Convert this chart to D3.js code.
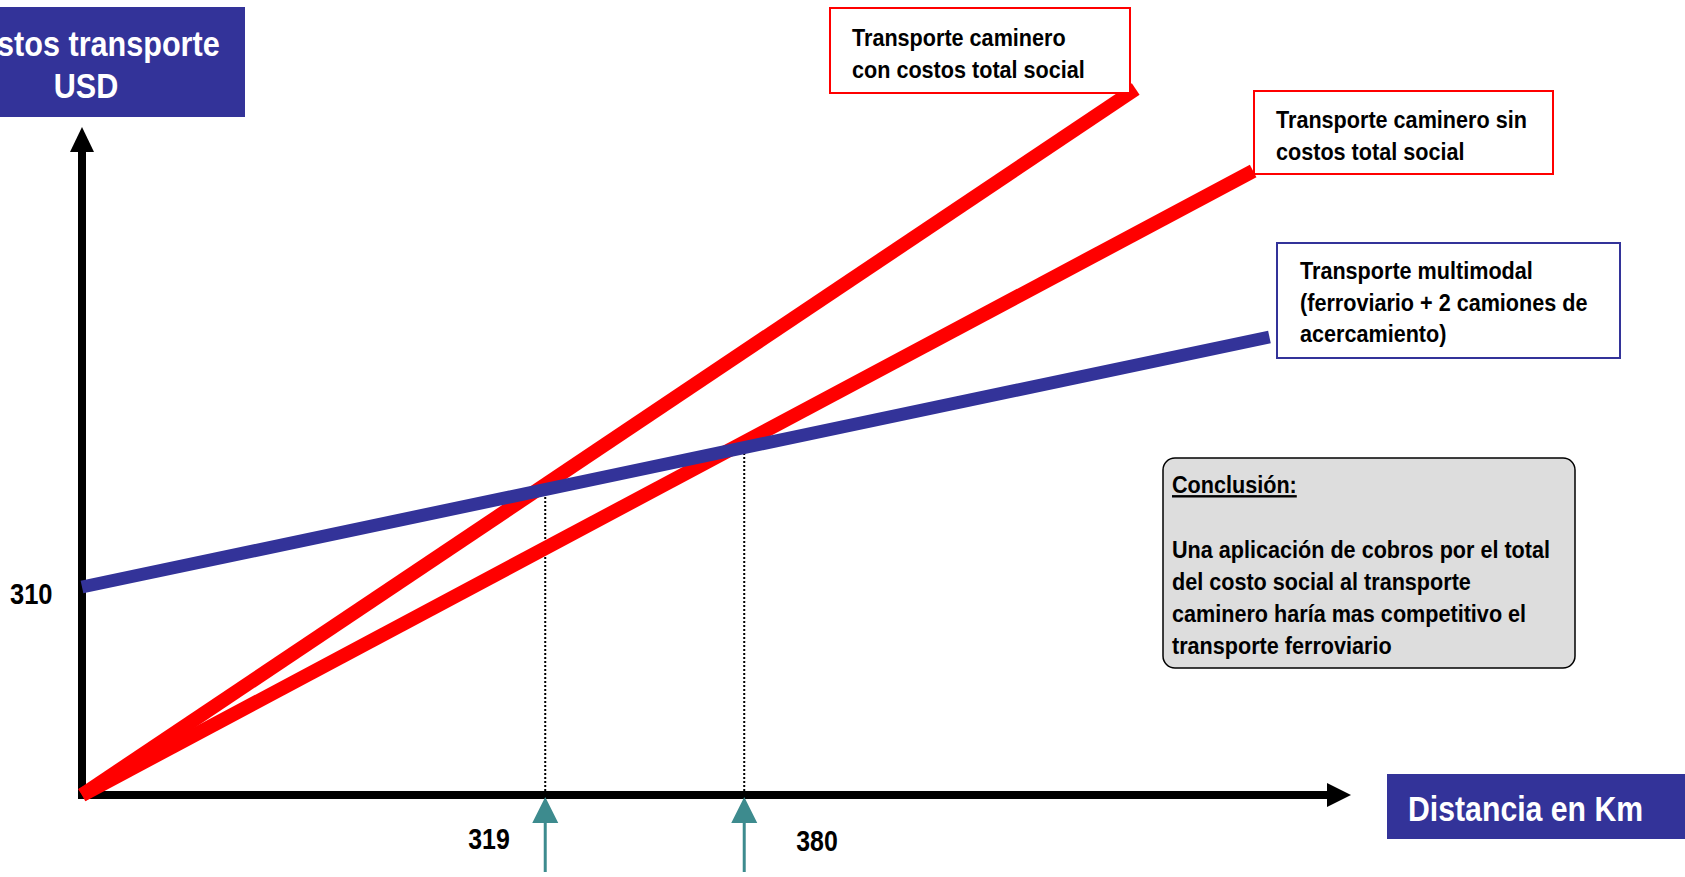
<!DOCTYPE html>
<html>
<head>
<meta charset="utf-8">
<script src="https://d3js.org/d3.v7.min.js"></script>
<style>
  html, body { margin: 0; padding: 0; background: #fff; overflow: hidden; }
  text { font-family: "Liberation Sans", Arial, sans-serif; font-weight: bold; }
</style>
</head>
<body>
<svg width="1685" height="877"></svg>
<script>
// schematic values (km on x, USD on y)
var xDomain = [177, 566];
var yDomain = [102, 770];

var roadSocial   = [{km:177, usd:102}, {km:500, usd:808}];
var roadNoSocial = [{km:177, usd:102}, {km:536, usd:726}];
var multimodal   = [{km:177, usd:310}, {km:541, usd:560}];

var breakEvenKm  = [319, 380];
var breakEvenUsd = [408, 449];
var yTickValues  = [310];

var roadSocialLabel   = ["Transporte caminero", "con costos total social"];
var roadNoSocialLabel = ["Transporte caminero sin", "costos total social"];
var multimodalLabel   = ["Transporte multimodal", "(ferroviario + 2 camiones de", "acercamiento)"];
var conclusionLines   = ["Una aplicación de cobros por el total",
                         "del costo social al transporte", "caminero haría mas competitivo el",
                         "transporte ferroviario"];

var blue = "#333399", red = "#ff0000", teal = "#3d8b8e";

var svg = d3.select("svg");
var xScale = d3.scaleLinear().domain(xDomain).range([82, 1351]);
var yScale = d3.scaleLinear().domain(yDomain).range([795, 127]);

// text helper: bold condensed text via horizontal scale
function label(parent, x, y, str, size, sx, color, anchor) {
  return parent.append("text")
    .attr("transform", "translate(" + x + "," + y + ") scale(" + sx + ",1)")
    .attr("text-anchor", anchor || "start")
    .style("font-size", size + "px")
    .style("fill", color || "#000")
    .text(str);
}

// axes
var x0 = xScale.range()[0], x1 = xScale.range()[1];
var y0 = yScale.range()[0], y1 = yScale.range()[1];
svg.append("line")
  .attr("x1", x0 - 4).attr("y1", y0).attr("x2", x1 - 22).attr("y2", y0)
  .style("stroke", "#000").style("stroke-width", 8);
svg.append("path")
  .attr("d", "M" + x1 + "," + y0 + "L" + (x1 - 24) + "," + (y0 - 12) + "L" + (x1 - 24) + "," + (y0 + 12) + "Z")
  .style("fill", "#000");
svg.append("line")
  .attr("x1", x0).attr("y1", y0 + 4).attr("x2", x0).attr("y2", y1 + 22)
  .style("stroke", "#000").style("stroke-width", 8);
svg.append("path")
  .attr("d", "M" + x0 + "," + y1 + "L" + (x0 - 12) + "," + (y1 + 25) + "L" + (x0 + 12) + "," + (y1 + 25) + "Z")
  .style("fill", "#000");

// break-even dotted guides
breakEvenKm.forEach(function(km, i) {
  svg.append("line")
    .attr("x1", xScale(km)).attr("x2", xScale(km))
    .attr("y1", y0 - 4).attr("y2", yScale(breakEvenUsd[i]))
    .style("stroke", "#000").style("stroke-width", 2)
    .style("stroke-dasharray", "2,2");
});

// series lines
var line = d3.line().x(function(d) { return xScale(d.km); }).y(function(d) { return yScale(d.usd); });
svg.append("path").datum(roadNoSocial).attr("d", line)
  .style("fill", "none").style("stroke", red).style("stroke-width", 14);
svg.append("path").datum(roadSocial).attr("d", line)
  .style("fill", "none").style("stroke", red).style("stroke-width", 14);
svg.append("path").datum(multimodal).attr("d", line)
  .style("fill", "none").style("stroke", blue).style("stroke-width", 13);

// teal arrows under break-even points
breakEvenKm.forEach(function(km) {
  var cx = xScale(km);
  svg.append("line")
    .attr("x1", cx).attr("x2", cx).attr("y1", y0 + 26).attr("y2", y0 + 77)
    .style("stroke", teal).style("stroke-width", 3);
  svg.append("path")
    .attr("d", "M" + cx + "," + (y0 + 2) + "L" + (cx - 13) + "," + (y0 + 28) + "L" + (cx + 13) + "," + (y0 + 28) + "Z")
    .style("fill", teal);
});

// tick labels
label(svg, xScale(breakEvenKm[0]) - 77, 849, breakEvenKm[0], 30, 0.83);
label(svg, xScale(breakEvenKm[1]) + 52, 851, breakEvenKm[1], 30, 0.83);
label(svg, 10, yScale(yTickValues[0]) + 17, yTickValues[0], 30, 0.85);

// axis titles (the y title is cut at the left edge, as in the original slide)
svg.append("rect").attr("x", -10).attr("y", 7).attr("width", 255).attr("height", 110).style("fill", blue);
label(svg, 88, 56, "Costos transporte", 36, 0.85, "#fff", "middle");
label(svg, 86, 98, "USD", 36, 0.85, "#fff", "middle");

svg.append("rect").attr("x", 1387).attr("y", 774).attr("width", 310).attr("height", 65).style("fill", blue);
label(svg, 1408, 821, "Distancia en Km", 36, 0.84, "#fff");

// series label boxes
function box(x, y, w, h, stroke, lines, tx, ty) {
  svg.append("rect").attr("x", x).attr("y", y).attr("width", w).attr("height", h)
    .style("fill", "#fff").style("stroke", stroke).style("stroke-width", 2);
  lines.forEach(function(s, i) { label(svg, tx, ty + i * 31.5, s, 24, 0.9); });
}
box(830, 8, 300, 85, red, roadSocialLabel, 852, 46);
box(1254, 91, 299, 83, red, roadNoSocialLabel, 1276, 128);
box(1277, 243, 343, 115, blue, multimodalLabel, 1300, 279);

// conclusion
svg.append("rect").attr("x", 1163).attr("y", 458).attr("width", 412).attr("height", 210)
  .attr("rx", 12).attr("ry", 12)
  .style("fill", "#dddddd").style("stroke", "#000").style("stroke-width", 1.5);
label(svg, 1172, 493, "Conclusión:", 24, 0.9).style("text-decoration", "underline");
conclusionLines.forEach(function(s, i) {
  label(svg, 1172, 558 + i * 32, s, 24, 0.9);
});
</script>
</body>
</html>
